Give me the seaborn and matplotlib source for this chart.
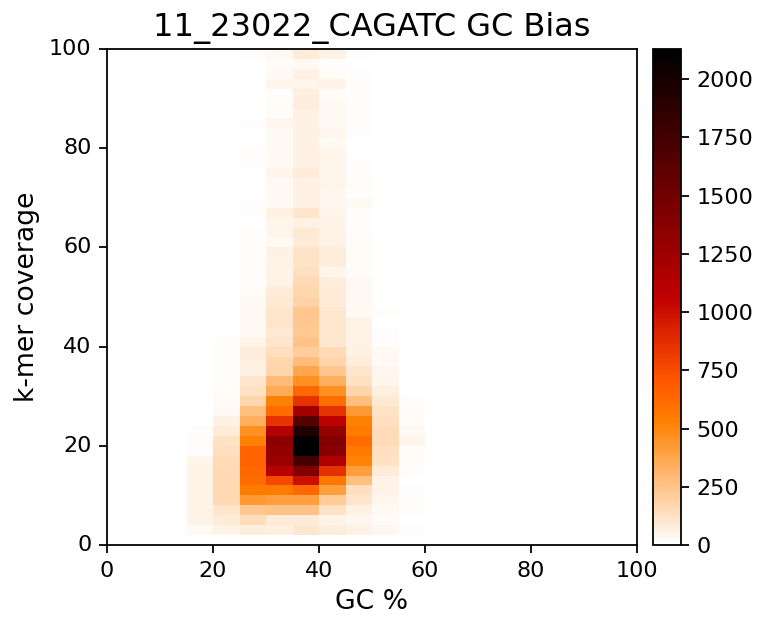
import numpy as np
import matplotlib
matplotlib.use("Agg")
import matplotlib.pyplot as plt
import seaborn as sns

# k-mer counts per coverage bin (2 wide, ascending from 0) for each GC bin (5 wide)
gc_10 = [0, 8, 0, 5, 5]
gc_15 = [0, 28, 52, 52, 52, 50, 50, 50, 45, 12, 15, 10, 5, 3, 0, 0, 0, 0, 0, 0,
         3, 5, 5, 0, 0, 3, 0, 0, 0, 0, 0, 0, 0, 0, 0, 0, 0, 0, 0, 0, 0, 3]
gc_20 = [0, 55, 90, 110, 165, 165, 165, 165, 155, 140, 130, 85, 65, 30, 20, 18, 12, 12, 12, 12,
         10, 6, 4, 4, 4, 4]
gc_25 = [0, 75, 145, 240, 430, 550, 620, 640, 650, 650, 530, 460, 340, 270, 170, 130, 110, 65, 70, 80,
         45, 28, 28, 28, 25, 22, 10, 10, 18, 10, 10, 10, 6, 10, 10, 6, 6, 6, 10, 10, 4, 6, 12, 6, 6, 6, 6, 6, 0, 10]
gc_30 = [0, 70, 85, 250, 400, 550, 770, 1100, 1280, 1320, 1350, 1130, 850, 620, 530, 350, 290, 180, 170, 140,
         110, 95, 115, 110, 95, 85, 55, 55, 55, 60, 30, 48, 48, 60, 26, 26, 26, 48, 30, 30, 30, 30, 34, 22, 22, 10, 42, 30, 24, 30]
gc_35 = [0, 100, 85, 250, 400, 640, 1000, 1420, 1750, 2130, 2130, 1950, 1650, 1230, 850, 640, 460, 380, 275, 210,
         250, 225, 240, 240, 190, 170, 165, 135, 120, 120, 90, 95, 65, 110, 65, 65, 65, 90, 65, 65, 60, 65, 65, 65, 75, 70, 45, 65, 32, 90]
gc_40 = [0, 80, 50, 130, 220, 400, 560, 860, 1150, 1360, 1400, 1300, 1080, 850, 600, 460, 340, 240, 180, 160,
         100, 100, 105, 100, 85, 85, 80, 45, 80, 80, 50, 50, 55, 42, 34, 34, 42, 42, 42, 42, 28, 40, 30, 28, 28, 22, 50, 22, 15, 55]
gc_45 = [0, 60, 35, 60, 110, 140, 270, 410, 520, 560, 620, 550, 530, 430, 270, 175, 130, 110, 75, 60,
         50, 50, 50, 28, 32, 28, 28, 22, 22, 22, 22, 14, 12, 12, 28, 10, 20, 10, 10, 6, 6, 12, 10, 14, 10, 10, 12, 10, 6, 10]
gc_50 = [0, 40, 20, 25, 35, 50, 50, 90, 130, 140, 150, 150, 140, 120, 95, 70, 45, 35, 28, 25,
         10, 10, 6, 10, 6, 6, 6, 6, 6, 4, 0, 0, 0, 4, 0, 0, 0, 4, 4]
gc_55 = [0, 12, 8, 10, 10, 10, 5, 15, 20, 20, 45, 25, 20, 20, 12, 8, 5, 5]
gc_60 = [0, 5, 3]

gc_columns = {10: gc_10, 15: gc_15, 20: gc_20, 25: gc_25, 30: gc_30, 35: gc_35,
              40: gc_40, 45: gc_45, 50: gc_50, 55: gc_55, 60: gc_60}
n_gc_bins, n_cov_bins = 20, 50
axis_ticks = [0, 20, 40, 60, 80, 100]
cbar_ticks = [0, 250, 500, 750, 1000, 1250, 1500, 1750, 2000]

counts = np.zeros((n_cov_bins, n_gc_bins))
for gc, col in gc_columns.items():
    counts[:len(col), gc // 5] = col

sns.set_theme(style="ticks")
plt.rcParams["font.family"] = ["DejaVu Sans"]

W, H = 757, 621
DPI = 160
fig = plt.figure(figsize=(W / DPI, H / DPI), dpi=DPI)
ax = fig.add_axes([107 / W, 1 - 545 / H, 530 / W, 496 / H])
cax = fig.add_axes([652.5 / W, 1 - 545 / H, 28.5 / W, 496 / H])

sns.heatmap(counts, ax=ax, cbar_ax=cax, cmap="gist_heat_r", vmin=0, vmax=counts.max(),
            square=False, cbar_kws={"ticks": cbar_ticks})
ax.invert_yaxis()
ax.set_xticks([t / 5 for t in axis_ticks])
ax.set_xticklabels([str(t) for t in axis_ticks], rotation=0)
ax.set_yticks([t / 2 for t in axis_ticks])
ax.set_yticklabels([str(t) for t in axis_ticks], rotation=0)
for spine in ax.spines.values():
    spine.set_visible(True)
    spine.set_linewidth(0.8)
    spine.set_color("black")
cb = ax.collections[0].colorbar
cb.outline.set_visible(True)
cb.outline.set_linewidth(0.8)
cb.outline.set_edgecolor("black")
for a in (ax, cax):
    a.tick_params(length=3.5, width=0.8, pad=3.5, labelsize=10, color="black", labelcolor="black")
ax.set_xlabel("GC %", fontsize=12, color="black", labelpad=4)
ax.set_ylabel("k-mer coverage", fontsize=12, color="black", labelpad=4)
ax.set_title("11_23022_CAGATC GC Bias", fontsize=14.4, color="black", pad=6)
fig.savefig("out.png", dpi=DPI)
